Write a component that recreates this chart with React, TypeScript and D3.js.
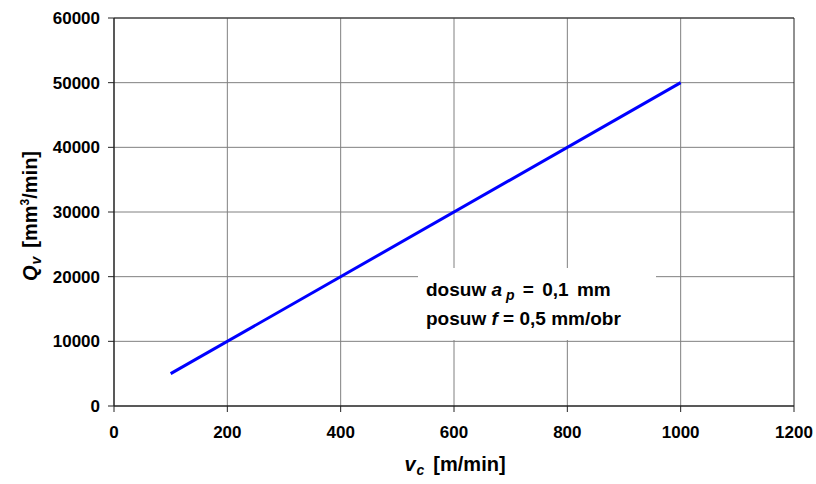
import React from "react"
import * as d3 from "d3"

// dane
const vc = [100, 1000]
const qv = [5000, 50000]
const xTicks = [0, 200, 400, 600, 800, 1000, 1200]
const yTicks = [0, 10000, 20000, 30000, 40000, 50000, 60000]

const W = 816
const H = 484
const margin = { left: 114, right: 22, top: 18, bottom: 78 }

export default function App() {
    const x = d3.scaleLinear().domain([0, 1200]).range([margin.left, W - margin.right])
    const y = d3.scaleLinear().domain([0, 60000]).range([H - margin.bottom, margin.top])
    const pts = vc.map((v, i) => [v, qv[i]] as [number, number])
    const line = d3.line<[number, number]>().x(d => x(d[0])).y(d => y(d[1]))
    const font = "'Liberation Sans', Arial, sans-serif"

    return (
        <svg width={W} height={H} style={{ position: "absolute", left: 0, top: 0 }} fontFamily={font} fontWeight="bold">
            <rect width={W} height={H} fill="#fff" />
            {/* siatka */}
            {xTicks.slice(1, -1).map(t => (
                <line key={"gx" + t} x1={x(t)} x2={x(t)} y1={y(0)} y2={y(60000)} stroke="#808080" strokeWidth={1} />
            ))}
            {yTicks.slice(1).map(t => (
                <line key={"gy" + t} x1={x(0)} x2={x(1200)} y1={y(t)} y2={y(t)} stroke="#808080" strokeWidth={1} />
            ))}
            {/* ramka */}
            <line x1={x(0)} x2={x(0)} y1={y(0)} y2={y(60000)} stroke="#222" strokeWidth={1.5} />
            <line x1={x(1200)} x2={x(1200)} y1={y(0)} y2={y(60000)} stroke="#222" strokeWidth={1} />
            <line x1={x(0)} x2={x(1200)} y1={y(0)} y2={y(0)} stroke="#222" strokeWidth={1.5} />
            <line x1={x(0)} x2={x(1200)} y1={y(60000)} y2={y(60000)} stroke="#222" strokeWidth={1} />
            {/* podzialki */}
            {yTicks.map(t => (
                <g key={"ty" + t}>
                    <line x1={x(0) - 6} x2={x(0)} y1={y(t)} y2={y(t)} stroke="#222" />
                    <text x={x(0) - 14} y={y(t)} dy="0.36em" textAnchor="end" fontSize={17}>{t}</text>
                </g>
            ))}
            {xTicks.map(t => (
                <g key={"tx" + t}>
                    <line x1={x(t)} x2={x(t)} y1={y(0)} y2={y(0) + 6} stroke="#222" />
                    <text x={x(t)} y={y(0) + 32} textAnchor="middle" fontSize={17}>{t}</text>
                </g>
            ))}
            {/* seria */}
            <path d={line(pts) || ""} fill="none" stroke="#0000ff" strokeWidth={3} />
            {/* opis */}
            <rect x={418} y={268} width={238} height={72} fill="#fff" />
            <text x={426} y={296} fontSize={19}>
                dosuw <tspan fontStyle="italic">a</tspan>
                <tspan fontStyle="italic" fontSize={14} dy={4} dx={4}>p</tspan>
                <tspan dy={-4} wordSpacing={3}> = 0,1 mm</tspan>
            </text>
            <text x={426} y={325} fontSize={19}>
                posuw <tspan fontStyle="italic">f</tspan> = 0,5 mm/obr
            </text>
            {/* osie - tytuly */}
            <text x={455} y={471} textAnchor="middle" fontSize={20}>
                <tspan fontStyle="italic">v</tspan>
                <tspan fontStyle="italic" fontSize={14} dy={4} dx={1}>c</tspan>
                <tspan dy={-4} dx={9}>[m/min]</tspan>
            </text>
            <text transform={`translate(37,${y(30000) + 4}) rotate(-90)`} textAnchor="middle" fontSize={20}>
                <tspan fontStyle="italic">Q</tspan>
                <tspan fontStyle="italic" fontSize={14} dy={4} dx={1}>v</tspan>
                <tspan dy={-4} dx={9}>[mm</tspan>
                <tspan fontSize={12} dy={-8}>3</tspan>
                <tspan dy={8}>/min]</tspan>
            </text>
        </svg>
    )
}
